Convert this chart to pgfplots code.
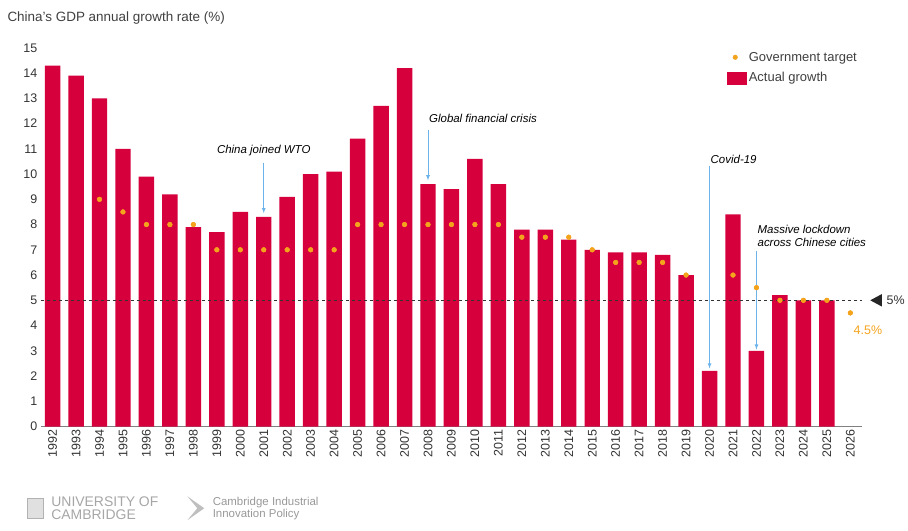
\documentclass[border=0pt]{standalone}
\usepackage{pgfplots}
\pgfplotsset{compat=1.18}
\usepackage{fontspec}
\setmainfont{Liberation Sans}
\definecolor{bar}{HTML}{D6003D}
\definecolor{tgt}{HTML}{F4A31D}
\definecolor{arr}{HTML}{6BB3EA}
\begin{document}
\begin{tikzpicture}[x=1pt,y=1pt]
\path (0,0) rectangle (908,532);
\node[anchor=west,font=\fontsize{13.5}{15}\selectfont,text=black!75] at (4,514) {China’s GDP annual growth rate (\%)};
\begin{axis}[at={(41pt,104pt)},anchor=south west,scale only axis,width=824pt,height=380pt,
 xmin=-0.5,xmax=34.5,ymin=0,ymax=15,
 ytick={0,1,...,15},
 xtick={0,...,34},
 xticklabels={1992,1993,1994,1995,1996,1997,1998,1999,2000,2001,2002,2003,2004,2005,2006,2007,2008,2009,2010,2011,2012,2013,2014,2015,2016,2017,2018,2019,2020,2021,2022,2023,2024,2025,2026},
 x tick label style={rotate=90,anchor=east},
 tick label style={font=\fontsize{12.5}{14}\selectfont,text=black!80},
 /pgf/number format/assume math mode=true,
 axis y line*=left, y axis line style={draw=none},
 axis x line*=bottom, x axis line style={black!50,-},
 major tick length=0pt,
 clip=false,
 legend style={at={(1,1)},anchor=north east,draw=none,font=\fontsize{13}{15}\selectfont,text=black!75,row sep=6pt},
 legend cell align=left,
]
\addplot[only marks,mark=*,mark size=2.3pt,color=tgt] coordinates {
(2,9)(3,8.5)(4,8)(5,8)(6,8)(7,7)(8,7)(9,7)(10,7)(11,7)(12,7)(13,8)(14,8)(15,8)(16,8)(17,8)(18,8)(19,8)(20,7.5)(21,7.5)(22,7.5)(23,7)(24,6.5)(25,6.5)(26,6.5)(27,6)(29,6)(30,5.5)(31,5)(32,5)(33,5)(34,4.5)};
\addlegendentry{Government target}
\addplot[ybar,bar width=15.5pt,fill=bar,draw=none,forget plot] coordinates {
(0,14.3)(1,13.9)(2,13.0)(3,11.0)(4,9.9)(5,9.2)(6,7.9)(7,7.7)(8,8.5)(9,8.3)(10,9.1)(11,10.0)(12,10.1)(13,11.4)(14,12.7)(15,14.2)(16,9.6)(17,9.4)(18,10.6)(19,9.6)(20,7.8)(21,7.8)(22,7.4)(23,7.0)(24,6.9)(25,6.9)(26,6.8)(27,6.0)(28,2.2)(29,8.4)(30,3.0)(31,5.2)(32,5.0)(33,5.0)};
\addlegendimage{legend image code/.code={\fill[bar] (0pt,-6pt) rectangle (20pt,6pt);}}
\addlegendentry{Actual growth}
\addplot[only marks,mark=*,mark size=2.3pt,color=tgt,forget plot] coordinates {
(2,9)(3,8.5)(4,8)(5,8)(6,8)(7,7)(8,7)(9,7)(10,7)(11,7)(12,7)(13,8)(14,8)(15,8)(16,8)(17,8)(18,8)(19,8)(20,7.5)(21,7.5)(22,7.5)(23,7)(24,6.5)(25,6.5)(26,6.5)(27,6)(29,6)(30,5.5)(31,5)(32,5)(33,5)(34,4.5)};
\draw[dashed,black!80] (axis cs:-0.5,5) -- (axis cs:34.5,5);
\fill[black!85] (axis cs:34.85,5) -- (axis cs:35.35,5.25) -- (axis cs:35.35,4.75) -- cycle;
\node[font=\fontsize{12.5}{14}\selectfont,text=black!80,anchor=west] at (axis cs:35.4,5) {5\%};
\node[font=\fontsize{12.5}{14}\selectfont,text=tgt] at (axis cs:34.75,3.8) {4.5\%};
\begin{scope}[font=\itshape\fontsize{11.5}{14}\selectfont]
\node at (axis cs:9,10.95) {China joined WTO};
\draw[arr,thick,-latex] (axis cs:9,10.45) -- (axis cs:9,8.45);
\node[anchor=west] at (axis cs:15.9,12.2) {Global financial crisis};
\draw[arr,thick,-latex] (axis cs:16,11.75) -- (axis cs:16,9.75);
\node[anchor=west] at (axis cs:27.9,10.6) {Covid-19};
\draw[arr,thick,-latex] (axis cs:28,10.3) -- (axis cs:28,2.3);
\node[align=left,anchor=west] at (axis cs:29.9,7.55) {Massive lockdown\\across Chinese cities};
\draw[arr,thick,-latex] (axis cs:30,6.95) -- (axis cs:30,3.05);
\end{scope}
\end{axis}
\node[anchor=west,text=black!35,font=\fontsize{14}{13}\selectfont,align=left] at (48,22) {UNIVERSITY OF\\CAMBRIDGE};
\draw[black!30,fill=black!12] (27,12) rectangle (43,32);
\fill[black!25] (188,10) -- (205,22) -- (188,34) -- (198,22) -- cycle;
\node[anchor=west,text=black!40,font=\fontsize{11.5}{12}\selectfont,align=left] at (210,22) {Cambridge Industrial\\Innovation Policy};
\end{tikzpicture}
\end{document}
